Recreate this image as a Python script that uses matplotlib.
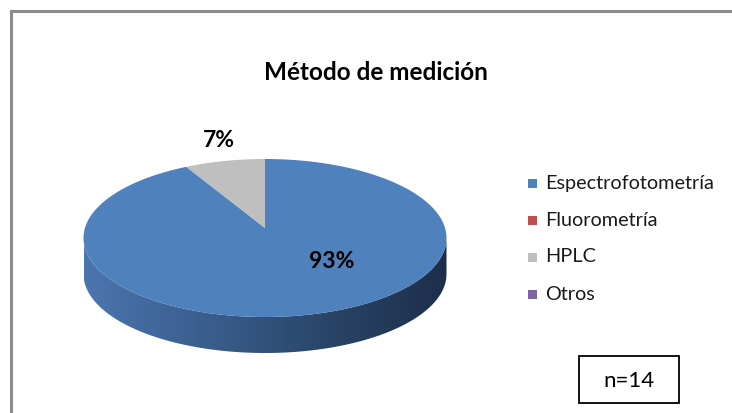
import numpy as np
import matplotlib
matplotlib.use("Agg")
import matplotlib.pyplot as plt
from matplotlib.patches import Polygon, Rectangle
from matplotlib.colors import LinearSegmentedColormap

# ---- data ----
categories = ["Espectrofotometría", "Fluorometría", "HPLC", "Otros"]
counts = [13, 0, 1, 0]
colors = ["#4F81BD", "#C0504D", "#BFBFBF", "#8064A2"]
title = "Método de medición"
note = "n=14"

plt.rcParams['font.family'] = ['Lato', 'DejaVu Sans']

W, H = 732, 413
fig = plt.figure(figsize=(W / 100, H / 100), dpi=100)
ax = fig.add_axes([0, 0, 1, 1])
ax.set_xlim(0, W)
ax.set_ylim(H, 0)
ax.axis('off')

# chart frame (gray border on left/top)
ax.plot([11, 11, W + 5], [H + 5, 11, 11], color="#8C8C8C", lw=2.2,
        solid_joinstyle='miter', clip_on=False)

# pie geometry (pixels)
cx, cy = 265.0, 238.0
a, b = 181.5, 79.0
depth = 36.0
vy = cy - 10.0   # perspective vertex

vals = np.array(counts, dtype=float)
fr = vals / vals.sum()
ends = 90 - 360 * np.cumsum(fr)
starts = np.concatenate([[90], ends[:-1]])


def rim(t_deg, yoff=0.0):
    t = np.radians(t_deg)
    return np.column_stack([cx + a * np.cos(t), cy - b * np.sin(t) + yoff])


# side wall with gradient (front half)
ts = np.linspace(180, 360, 200)
top = rim(ts)
bot = rim(ts[::-1], depth)
side = Polygon(np.vstack([top, bot]), closed=True, facecolor='none', edgecolor='none')
ax.add_patch(side)
cmap = LinearSegmentedColormap.from_list("side", ["#4B76AE", "#3A5E8E", "#2A4568", "#1D2E4B"])
grad = np.linspace(0, 1, 256)[None, :]
im = ax.imshow(grad, cmap=cmap, extent=[cx - a, cx + a, cy + b + depth + 2, cy - 2],
               aspect='auto', zorder=1)
im.set_clip_path(side)

# top faces
for s, e, c, v in zip(starts, ends, colors, vals):
    if v <= 0:
        continue
    tt = np.linspace(s, e, max(int(abs(s - e)), 2) * 2)
    pts = np.vstack([[cx, vy], rim(tt)])
    ax.add_patch(Polygon(pts, closed=True, facecolor=c, edgecolor='none', zorder=2))

# percentage labels
for s, e, v in zip(starts, ends, fr):
    if v <= 0:
        continue
    pct = f"{round(v * 100):d}%"
    mid = np.radians((s + e) / 2)
    if v < 0.5:
        x = cx + 1.15 * a * np.cos(mid)
        y = cy - 1.27 * b * np.sin(mid)
    else:
        x = cx + 0.37 * a
        y = cy + 0.30 * b
    ax.text(x, y, pct, ha='center', va='center', fontsize=16.5,
            fontweight='bold', color='black', zorder=5)

# title
ax.text(376, 73, title, ha='center', va='center', fontsize=17.5,
        fontweight='bold', color='black')

# legend
ly0, ldy = 183, 37
for i, (lab, c) in enumerate(zip(categories, colors)):
    y = ly0 + i * ldy
    ax.add_patch(Rectangle((528, y - 4.5), 9, 9, facecolor=c, edgecolor='none'))
    ax.text(545, y, lab, ha='left', va='center', fontsize=14.3, color='#1a1a1a')

# n box
ax.add_patch(Rectangle((579, 356), 100, 47, facecolor='white', edgecolor='black', lw=1.3))
ax.text(629, 381, note, ha='center', va='center', fontsize=16, color='black')

fig.savefig("out.png", dpi=100)
